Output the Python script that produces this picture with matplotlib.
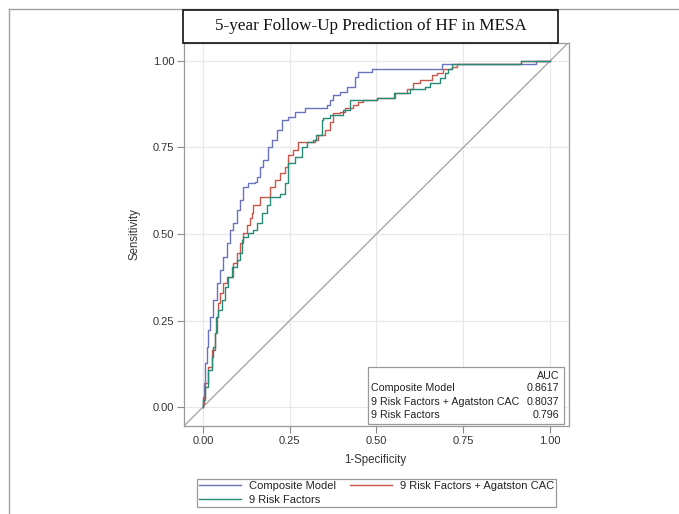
import matplotlib
matplotlib.use("Agg")
import matplotlib.pyplot as plt
from matplotlib.patches import Rectangle
from matplotlib.lines import Line2D

plt.rcParams['font.family'] = ['Liberation Sans', 'DejaVu Sans']

title = "5-year Follow-Up Prediction of HF in MESA"
series_names = ["Composite Model", "9 Risk Factors + Agatston CAC", "9 Risk Factors"]
auc_values = ["0.8617", "0.8037", "0.796"]
tick_values = [0.0, 0.25, 0.5, 0.75, 1.0]
tick_labels = ["0.00", "0.25", "0.50", "0.75", "1.00"]

composite_fpr = [0.0, 0.0, 0.003, 0.006, 0.011, 0.015, 0.020, 0.030, 0.039, 0.049, 0.059, 0.068,
                 0.078, 0.087, 0.097, 0.107, 0.116, 0.131, 0.150, 0.155, 0.164, 0.174, 0.188,
                 0.198, 0.212, 0.227, 0.246, 0.265, 0.294, 0.356, 0.366, 0.376, 0.395, 0.414,
                 0.438, 0.448, 0.486, 0.688, 0.960, 1.0]
composite_tpr = [0.0, 0.030, 0.068, 0.126, 0.174, 0.222, 0.261, 0.309, 0.357, 0.396, 0.434, 0.473,
                 0.512, 0.531, 0.569, 0.598, 0.637, 0.646, 0.651, 0.666, 0.694, 0.714, 0.752,
                 0.772, 0.800, 0.829, 0.839, 0.853, 0.863, 0.873, 0.887, 0.902, 0.911, 0.926,
                 0.954, 0.969, 0.976, 0.990, 1.0, 1.0]

cac_fpr = [0.0, 0.0, 0.003, 0.006, 0.015, 0.025, 0.035, 0.039, 0.044, 0.049, 0.059, 0.068,
           0.087, 0.097, 0.107, 0.116, 0.126, 0.135, 0.140, 0.145, 0.164, 0.193, 0.207,
           0.222, 0.236, 0.246, 0.260, 0.275, 0.323, 0.332, 0.352, 0.366, 0.376, 0.395,
           0.409, 0.433, 0.448, 0.462, 0.501, 0.553, 0.587, 0.606, 0.625, 0.659, 0.673,
           0.692, 0.717, 0.731, 0.916, 1.0]
cac_tpr = [0.0, 0.010, 0.030, 0.069, 0.116, 0.165, 0.213, 0.261, 0.300, 0.329, 0.357, 0.377,
           0.415, 0.444, 0.473, 0.502, 0.526, 0.545, 0.560, 0.584, 0.608, 0.637, 0.656,
           0.675, 0.694, 0.728, 0.743, 0.767, 0.772, 0.786, 0.800, 0.825, 0.849, 0.853,
           0.863, 0.873, 0.882, 0.887, 0.892, 0.907, 0.918, 0.935, 0.945, 0.960, 0.966,
           0.976, 0.983, 0.990, 1.0, 1.0]

rf_fpr = [0.0, 0.0, 0.001, 0.006, 0.015, 0.025, 0.030, 0.035, 0.037, 0.044, 0.054, 0.063,
          0.073, 0.083, 0.097, 0.107, 0.112, 0.116, 0.131, 0.145, 0.155, 0.169, 0.184,
          0.193, 0.222, 0.236, 0.246, 0.265, 0.284, 0.299, 0.318, 0.327, 0.342, 0.347,
          0.366, 0.404, 0.424, 0.501, 0.549, 0.597, 0.640, 0.654, 0.683, 0.697, 0.707,
          0.717, 0.916, 1.0]
rf_tpr = [0.0, 0.010, 0.020, 0.059, 0.107, 0.145, 0.174, 0.213, 0.261, 0.280, 0.309, 0.348,
          0.377, 0.405, 0.425, 0.444, 0.483, 0.492, 0.502, 0.512, 0.531, 0.560, 0.584,
          0.608, 0.617, 0.646, 0.704, 0.723, 0.752, 0.767, 0.772, 0.786, 0.829, 0.834,
          0.844, 0.858, 0.887, 0.892, 0.907, 0.918, 0.926, 0.937, 0.950, 0.964, 0.976,
          0.990, 1.0, 1.0]

colors = ["#6a73bd", "#c9574c", "#268a76"]
W, H = 679, 514
fig = plt.figure(figsize=(W / 100, H / 100), dpi=100)

ax_l, ax_r, ax_t, ax_b = 184, 569, 43, 426
ax = fig.add_axes([ax_l / W, 1 - ax_b / H, (ax_r - ax_l) / W, (ax_b - ax_t) / H])

ax.set_xlim(-0.0548, 1.0548)
ax.set_ylim(-0.0549, 1.052)
ax.set_xticks(tick_values)
ax.set_xticklabels(tick_labels)
ax.set_yticks(tick_values)
ax.set_yticklabels(tick_labels)
ax.tick_params(axis='both', length=5, width=0.8, color='#8a8a8a', labelsize=8,
               labelcolor='#333333', pad=2)
ax.grid(True, color='#e8e8e8', linewidth=0.9)
ax.set_axisbelow(True)
for s in ax.spines.values():
    s.set_color('#9a9a9a')
    s.set_linewidth(0.9)

ax.plot([-0.1, 1.1], [-0.1, 1.1], color='#a8a8a8', linewidth=1.0, zorder=2)

handles = []
for fpr, tpr, name, c in zip([composite_fpr, cac_fpr, rf_fpr],
                             [composite_tpr, cac_tpr, rf_tpr], series_names, colors):
    h, = ax.plot(fpr, tpr, drawstyle='steps-post', color=c, linewidth=1.0, label=name, zorder=3)
    handles.append(h)

ax.set_xlabel("1-Specificity", fontsize=8.3, color='#333333')
ax.set_ylabel("Sensitivity", fontsize=8.3, color='#333333')
ax.xaxis.set_label_coords(0.498, -0.073)
ax.yaxis.set_label_coords(-0.112, 0.5)

# AUC inset table
tb_l, tb_r, tb_t, tb_b = 0.477, 0.988, 0.155, 0.006
ax.add_patch(Rectangle((tb_l, tb_b), tb_r - tb_l, tb_t - tb_b, transform=ax.transAxes,
                       facecolor='white', edgecolor='#9a9a9a', linewidth=0.9, zorder=5))
row_y = [0.131, 0.098, 0.063, 0.029]
ax.text(0.974, row_y[0], "AUC", transform=ax.transAxes, ha='right', va='center',
        fontsize=7.7, color='#222222', zorder=6)
for yy, name, v in zip(row_y[1:], series_names, auc_values):
    ax.text(0.487, yy, name, transform=ax.transAxes, ha='left', va='center',
            fontsize=7.7, color='#222222', zorder=6)
    ax.text(0.974, yy, v, transform=ax.transAxes, ha='right', va='center',
            fontsize=7.7, color='#222222', zorder=6)

# title box
fig.add_artist(Rectangle((183 / W, 1 - 43 / H), (558 - 183) / W, (43 - 10) / H,
                         transform=fig.transFigure, facecolor='white', edgecolor='#222222',
                         linewidth=1.3, zorder=10))
fig.text(370.5 / W, 1 - 26.5 / H, title, ha='center', va='center', fontsize=12.3,
         family=['Liberation Serif', 'DejaVu Serif'], color='#111111', zorder=11)

# page border lines
fig.add_artist(Line2D([9 / W, 1.0], [1 - 9 / H, 1 - 9 / H], transform=fig.transFigure,
                      color='#a0a0a0', linewidth=1.0))
fig.add_artist(Line2D([9 / W, 9 / W], [0.0, 1 - 9 / H], transform=fig.transFigure,
                      color='#a0a0a0', linewidth=1.0))

# legend
leg = fig.legend([handles[0], handles[2], handles[1]],
                 [series_names[0], series_names[2], series_names[1]],
                 ncol=2, loc='upper left', bbox_to_anchor=(197 / W, 1 - 479 / H),
                 bbox_transform=fig.transFigure, borderaxespad=0, fontsize=8,
                 frameon=True, fancybox=False, edgecolor='#9a9a9a', framealpha=1,
                 handlelength=3.8, handletextpad=0.7, columnspacing=1.2,
                 labelspacing=0.35, borderpad=0.2)
leg.get_frame().set_linewidth(0.9)
for t in leg.get_texts():
    t.set_color('#222222')

fig.savefig("out.png", dpi=100)
